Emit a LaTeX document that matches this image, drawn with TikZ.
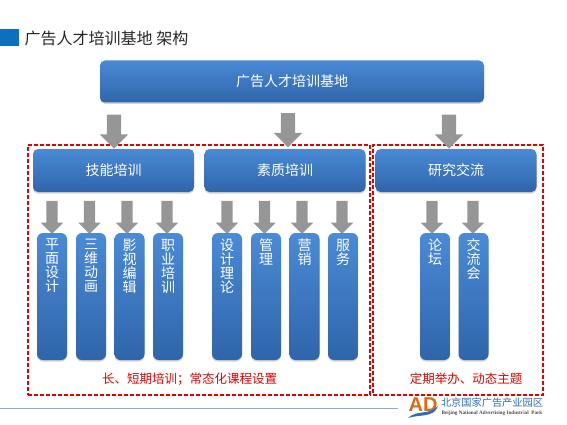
\documentclass[tikz,border=0pt]{standalone}
\usepackage{fontspec}
\setmainfont{Liberation Serif}
\newfontfamily\cjk{Noto Sans CJK SC}
\newfontfamily\logofont{Liberation Sans}
\usetikzlibrary{shapes.arrows, shadows}
\definecolor{boxtop}{HTML}{4A8AD6}
\definecolor{boxbot}{HTML}{2F65AA}
\definecolor{arrowgray}{HTML}{969696}
\definecolor{squareblue}{HTML}{0B70C0}
\definecolor{linkblue}{HTML}{7FB2D2}
\definecolor{logoblue}{HTML}{2F6DB5}
\definecolor{logoorange}{HTML}{DD6A12}
\newcommand{\vtxt}[1]{\parbox[c][127pt][t]{30pt}{\centering\vspace{6pt}#1}}

\begin{document}
\begin{tikzpicture}[
    x=1pt, y=-1pt,
    bluebox/.style={rounded corners=5pt, inner sep=0pt, text=white,
                    top color=boxtop, bottom color=boxbot,
                    drop shadow={shadow xshift=0pt, shadow yshift=-1.5pt, opacity=0.35},
                    font=\fontsize{14}{14}\selectfont\cjk},
    headbox/.style={bluebox, minimum width=161pt, minimum height=43pt},
    colbox/.style={bluebox, rounded corners=6pt, minimum width=30pt, minimum height=127pt},
    bigarrow/.style={single arrow, fill=arrowgray, shape border rotate=270, inner sep=0pt,
                     text width=14pt, minimum height=34pt,
                     single arrow head extend=7pt, single arrow head indent=0pt},
    smallarrow/.style={bigarrow, text width=11pt, minimum height=33pt,
                       single arrow head extend=5.5pt},
    redbox/.style={draw=red!90!black, line width=1.1pt, dash pattern=on 4pt off 2pt,
                   inner sep=0pt},
    redlbl/.style={text=red!90!black, inner sep=0pt, font=\fontsize{12.5}{12.5}\selectfont\cjk}
  ]
  \useasboundingbox (0,0) rectangle (567,425);

  % Title
  \node[fill=squareblue, minimum width=19pt, minimum height=17pt, inner sep=0pt] (sq) at (9.5,37.5) {};
  \node[inner sep=0pt, font=\fontsize{16}{16}\selectfont\cjk, text=black!85] (title) at (106.5,38.5) {广告人才培训基地 架构};

  % Dashed frames
  \node[redbox, minimum width=342pt, minimum height=250pt] (leftframe) at (199,270) {};
  \node[redbox, minimum width=170pt, minimum height=250pt] (rightframe) at (458,270) {};

  % Top box and its arrows
  \node[bluebox, minimum width=384pt, minimum height=42pt] (root) at (292,81.5) {广告人才培训基地};
  \node[bigarrow] (a1) at (114,128) {};
  \node[bigarrow] (a2) at (288,126.5) {};
  \node[bigarrow] (a3) at (449,128) {};

  % Second row
  \node[headbox] (skill) at (113.5,170.5) {技能培训};
  \node[headbox] (quality) at (285,170.5) {素质培训};
  \node[headbox] (research) at (456,170.5) {研究交流};

  % Small arrows
  \node[smallarrow] (s1) at (52,214.5) {};
  \node[smallarrow] (s2) at (89.5,214.5) {};
  \node[smallarrow] (s3) at (127,214.5) {};
  \node[smallarrow] (s4) at (167,214.5) {};
  \node[smallarrow] (s5) at (227,214.5) {};
  \node[smallarrow] (s6) at (264.5,214.5) {};
  \node[smallarrow] (s7) at (302,214.5) {};
  \node[smallarrow] (s8) at (342,214.5) {};
  \node[smallarrow] (s9) at (432,214.5) {};
  \node[smallarrow] (s10) at (473,214.5) {};

  % Columns
  \node[colbox] (c1) at (52,296.5) {\vtxt{平\\面\\设\\计}};
  \node[colbox] (c2) at (91,296.5) {\vtxt{三\\维\\动\\画}};
  \node[colbox] (c3) at (129.5,296.5) {\vtxt{影\\视\\编\\辑}};
  \node[colbox] (c4) at (168,296.5) {\vtxt{职\\业\\培\\训}};
  \node[colbox] (c5) at (227,296.5) {\vtxt{设\\计\\理\\论}};
  \node[colbox] (c6) at (266,296.5) {\vtxt{管\\理}};
  \node[colbox] (c7) at (304.5,296.5) {\vtxt{营\\销}};
  \node[colbox] (c8) at (343,296.5) {\vtxt{服\\务}};
  \node[colbox] (c9) at (435,296.5) {\vtxt{论\\坛}};
  \node[colbox] (c10) at (473.5,296.5) {\vtxt{交\\流\\会}};

  % Bottom notes
  \node[redlbl] (note1) at (189.5,379) {长、短期培训；常态化课程设置};
  \node[redlbl] (note2) at (466,379) {定期举办、动态主题};

  % Footer
  \coordinate (lineL) at (0,408);
  \coordinate (lineR) at (398,408);
  \draw[linkblue, line width=0.7pt] (lineL) -- (lineR);
  \node[inner sep=0pt, text=logoorange, font=\fontsize{20}{20}\selectfont\logofont\bfseries] (logo) at (423,404.5) {AD};
  \fill[logoblue] (408,418) .. controls (418,409) and (428,416) .. (438,406)
    .. controls (434,418) and (420,414) .. (408,418);
  \node[inner sep=0pt, text=logoblue, font=\fontsize{10.2}{10.2}\selectfont\cjk] (parkcn) at (492,403) {北京国家广告产业园区};
  \node[inner sep=0pt, text=black!70, font=\fontsize{5.2}{5.2}\selectfont\bfseries] (parken) at (492,413) {Beijing National Advertising Industrial\ \ Park};
\end{tikzpicture}
\end{document}
